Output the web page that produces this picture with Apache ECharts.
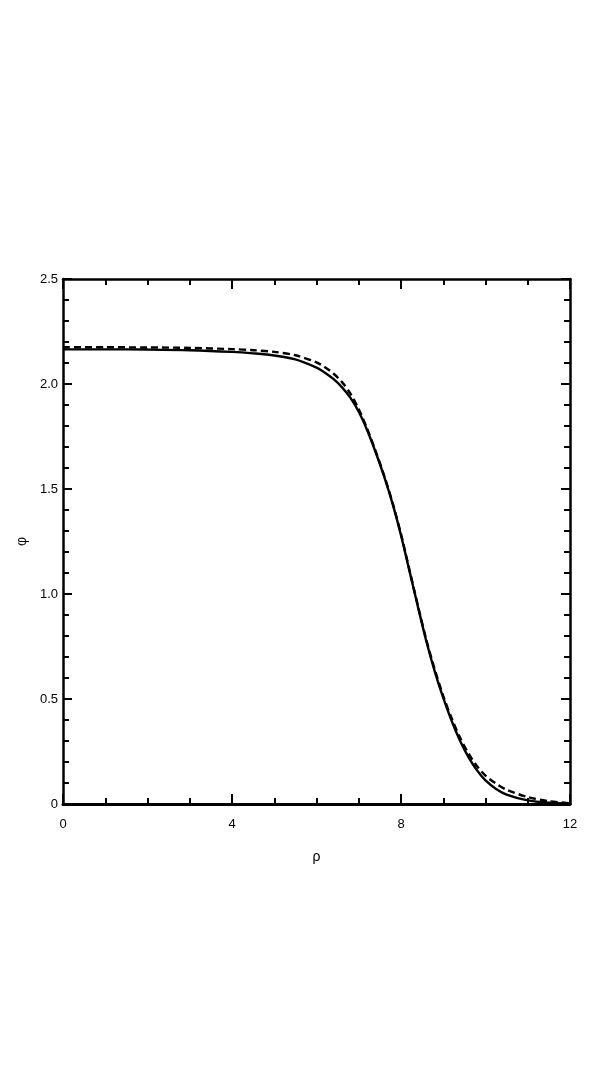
<!DOCTYPE html>
<html>
<head>
<meta charset="utf-8">
<script src="https://cdn.jsdelivr.net/npm/echarts@6/dist/echarts.min.js"></script>
<style>html,body{margin:0;padding:0;background:#fff;}#c{width:598px;height:1078px;}</style>
</head>
<body>
<div id="c"></div>
<script>
var rho = [0, 1, 2, 3, 4, 4.5, 5, 5.5, 6, 6.2, 6.4, 6.6, 6.8, 7.0, 7.2, 7.4, 7.6, 7.8, 8.0, 8.2, 8.4, 8.6, 8.8, 9.0, 9.2, 9.4, 9.6, 9.8, 10, 10.25, 10.5, 11, 11.5, 12];
var solidPhi = [2.165, 2.165, 2.164, 2.161, 2.153, 2.146, 2.136, 2.117, 2.078, 2.054, 2.024, 1.985, 1.935, 1.868, 1.78, 1.675, 1.56, 1.43, 1.28, 1.11, 0.94, 0.775, 0.63, 0.505, 0.395, 0.30, 0.222, 0.16, 0.112, 0.072, 0.045, 0.017, 0.006, 0.002];
var dashedPhi = [2.175, 2.175, 2.174, 2.172, 2.166, 2.161, 2.153, 2.137, 2.103, 2.08, 2.05, 2.01, 1.955, 1.88, 1.787, 1.68, 1.565, 1.435, 1.285, 1.115, 0.945, 0.782, 0.64, 0.515, 0.408, 0.315, 0.24, 0.18, 0.135, 0.097, 0.068, 0.033, 0.013, 0.004];
var xTicks = [0, 4, 8, 12];
var yTicks = ['0', '0.5', '1.0', '1.5', '2.0', '2.5'];

function pairs(xs, ys) { return xs.map(function (x, i) { return [x, ys[i]]; }); }

var font = "'Liberation Sans Narrow', 'Liberation Sans', Arial, sans-serif";
var chart = echarts.init(document.getElementById('c'));

function xAx(pos, labels) {
  return {
    type: 'value', position: pos, min: 0, max: 12, interval: 4,
    name: labels ? 'ρ' : '', nameLocation: 'middle', nameGap: 46,
    nameTextStyle: { fontFamily: font, fontSize: 14, color: '#000' },
    axisLine: { show: true, onZero: false, lineStyle: { color: '#000', width: pos === 'bottom' ? 3 : 2.5 } },
    axisTick: { show: true, inside: true, length: 10, lineStyle: { color: '#000', width: 2 } },
    minorTick: { show: true, splitNumber: 4, length: 6, lineStyle: { color: '#000', width: 2 } },
    axisLabel: { show: labels, margin: 14, fontFamily: font, fontSize: 13, color: '#000',
      formatter: function (v) { return xTicks.indexOf(v) >= 0 ? String(v) : ''; } },
    splitLine: { show: false }, minorSplitLine: { show: false }
  };
}
function yAx(pos, labels) {
  return {
    type: 'value', position: pos, min: 0, max: 2.5, interval: 0.5,
    name: labels ? 'φ' : '', nameLocation: 'middle', nameGap: 30, nameRotate: 90,
    nameTextStyle: { fontFamily: font, fontSize: 14, color: '#000' },
    axisLine: { show: true, onZero: false, lineStyle: { color: '#000', width: 2.5 } },
    axisTick: { show: true, inside: true, length: 9, lineStyle: { color: '#000', width: 2 } },
    minorTick: { show: true, splitNumber: 5, length: 6, lineStyle: { color: '#000', width: 2 } },
    axisLabel: { show: labels, margin: 5, fontFamily: font, fontSize: 13, color: '#000',
      formatter: function (v) { return yTicks[Math.round(v / 0.5)]; } },
    splitLine: { show: false }, minorSplitLine: { show: false }
  };
}

chart.setOption({
  backgroundColor: '#fff',
  animation: false,
  grid: { left: 63, right: 28, top: 279, bottom: 274, containLabel: false },
  xAxis: [xAx('bottom', true), xAx('top', false)],
  yAxis: [yAx('left', true), yAx('right', false)],
  series: [
    { type: 'line', xAxisIndex: 0, yAxisIndex: 0, data: pairs(rho, dashedPhi), showSymbol: false, symbol: 'none',
      smooth: 0.3, lineStyle: { color: '#000', width: 2.4, type: [7, 4] }, z: 3 },
    { type: 'line', xAxisIndex: 0, yAxisIndex: 0, data: pairs(rho, solidPhi), showSymbol: false, symbol: 'none',
      smooth: 0.3, lineStyle: { color: '#000', width: 2.4 }, z: 4 }
  ]
});
</script>
</body>
</html>
